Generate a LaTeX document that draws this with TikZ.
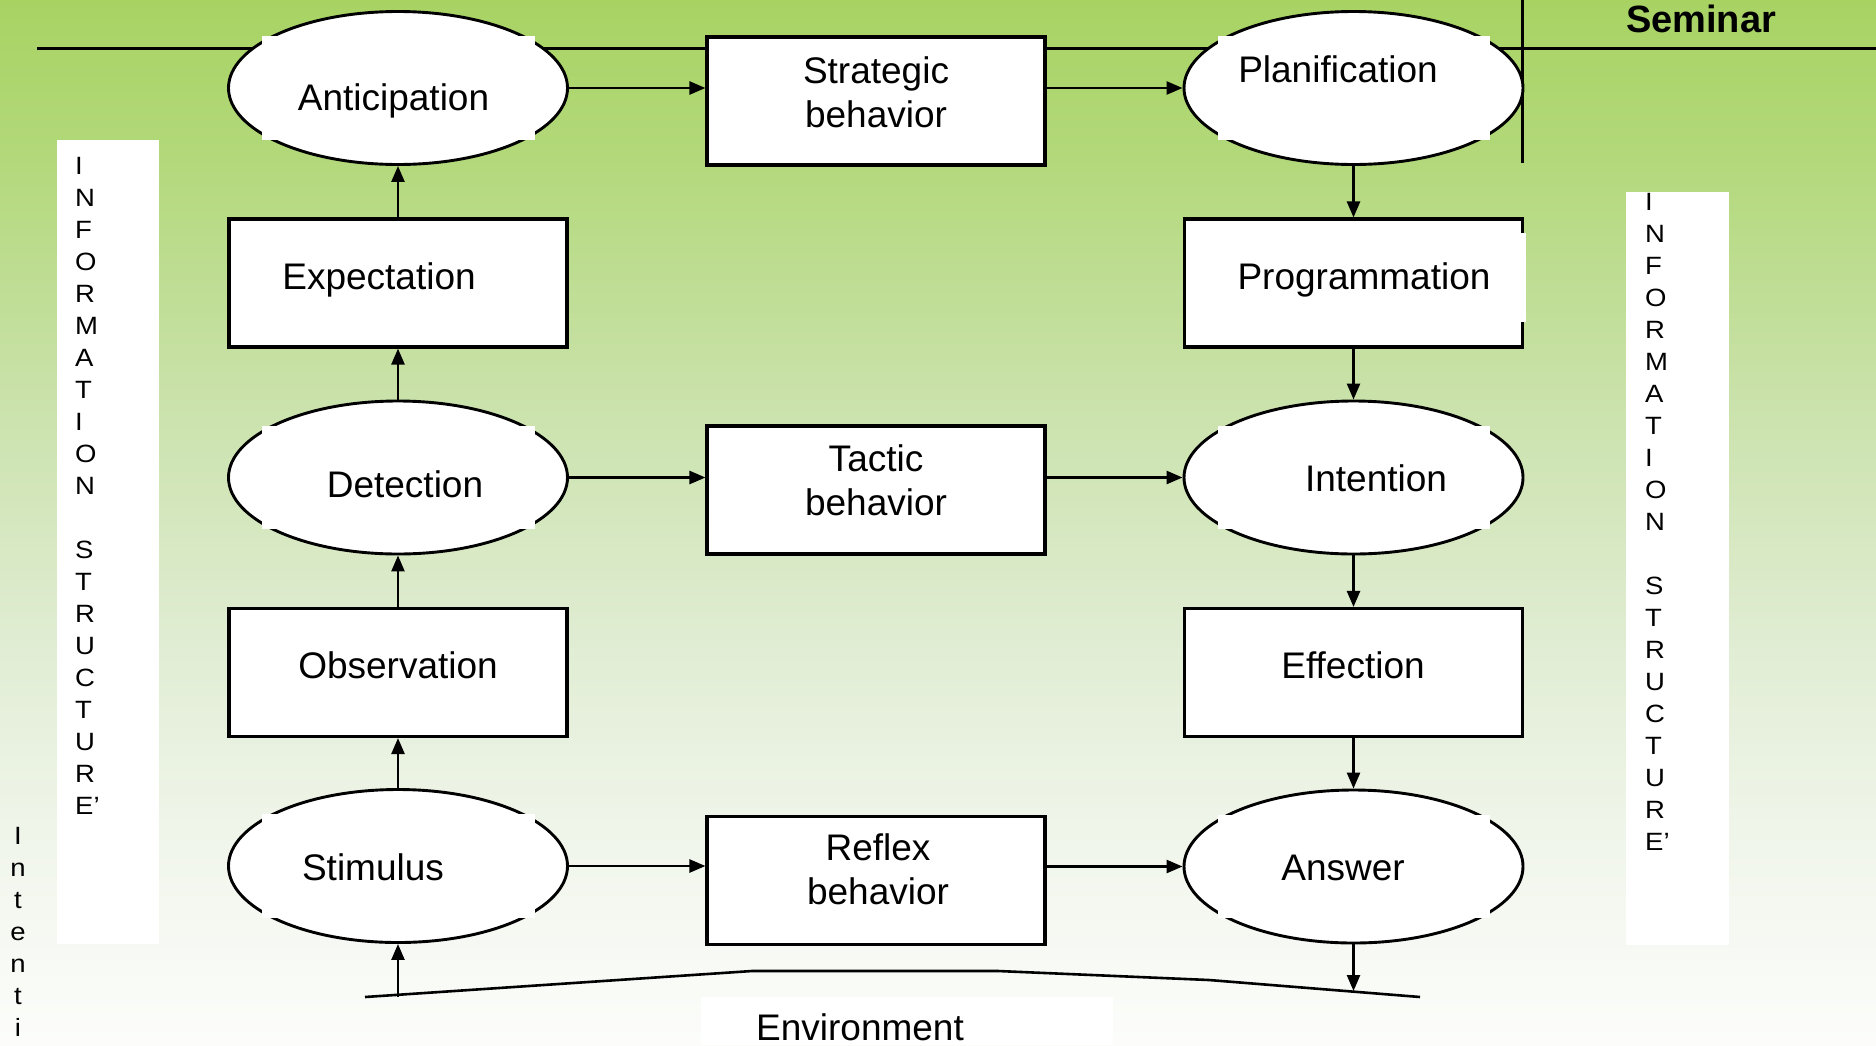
\documentclass[tikz,border=0pt]{standalone}
\usepackage{fontspec}
\setmainfont{Liberation Sans}
\newfontfamily\widesans[FakeStretch=1.1]{Liberation Sans}
\usetikzlibrary{shapes.geometric,arrows.meta,calc}
\definecolor{bgA}{HTML}{A8D363}
\definecolor{bgB}{HTML}{B2D879}
\definecolor{bgC}{HTML}{CAE2AB}
\definecolor{bgD}{HTML}{E1EDD4}
\definecolor{bgE}{HTML}{F1F6EC}
\definecolor{bgF}{HTML}{FCFDFB}
\tikzset{
  ell/.style={ellipse, draw, fill=white, line width=2.9pt, minimum width=339pt, minimum height=153pt, inner sep=0pt},
  boxn/.style={rectangle, draw, fill=white, line width=3.1pt, minimum width=338pt, minimum height=128pt, inner sep=0pt},
  lbl/.style={inner sep=0pt, font=\fontsize{37}{44}\selectfont},
  vlbl/.style={inner sep=0pt, font=\widesans\fontsize{25}{32}\selectfont},
  arr/.style={line width=2.5pt, -{Triangle[length=16pt,width=13pt]}},
  rule/.style={line width=3pt},
}
\begin{document}
\begin{tikzpicture}[x=1pt,y=-1pt]
\useasboundingbox (0,0) rectangle (1876,1045);
% background gradient
\shade[top color=bgA, bottom color=bgB] (0,0) rectangle (1876,151);
\shade[top color=bgB, bottom color=bgC] (0,150) rectangle (1876,401);
\shade[top color=bgC, bottom color=bgD] (0,400) rectangle (1876,651);
\shade[top color=bgD, bottom color=bgE] (0,650) rectangle (1876,851);
\shade[top color=bgE, bottom color=bgF] (0,850) rectangle (1876,1045);
% side panels
\fill[white] (57,140) rectangle (159,944);
\fill[white] (1626,192) rectangle (1729,945);
\fill[white] (701,997) rectangle (1113,1045);
% header rules
\coordinate (tl) at (37,48);
\coordinate (tr) at (1876,48);
\coordinate (vt) at (1522.5,0);
\coordinate (vb) at (1522.5,163);
\draw[rule] (tl) -- (tr);
\draw[line width=2.7pt] (vt) -- (vb);
% environment line
\coordinate (e1) at (365,997);
\coordinate (e2) at (752,971);
\coordinate (e3) at (998,971);
\coordinate (e4) at (1209,980);
\coordinate (e5) at (1420,997);
\draw[line width=2.6pt] (e1) -- (e2) -- (e3) -- (e4) -- (e5);
\coordinate (envS) at (398,997);
\coordinate (envA) at (1353.5,991);
% shapes
\node[ell]  (ant)  at (398,88) {};
\node[boxn] (strat) at (876,101) {};
\node[ell]  (plan) at (1353.5,88) {};
\node[boxn] (expc) at (398,283) {};
\node[boxn] (prog) at (1353.5,283) {};
\node[ell]  (det)  at (398,477.5) {};
\node[boxn] (tact) at (876,490) {};
\node[ell]  (intn) at (1353.5,477.5) {};
\node[boxn] (obs)  at (398,672.5) {};
\node[boxn] (eff)  at (1353.5,672.5) {};
\node[ell]  (stim) at (398,866) {};
\node[boxn] (refl) at (876,880.5) {};
\node[ell]  (ans)  at (1353.5,866.5) {};
\foreach \e in {ant,plan,det,intn,stim,ans}
  \fill[white] ($(\e.center)+(-136,-52)$) rectangle ($(\e.center)+(136.5,51.5)$);
\fill[white] (1520.5,233) rectangle (1525.5,322);
% connectors
\draw[arr] (ant.east) -- (ant.east -| strat.west);
\draw[arr] (strat.east |- plan.west) -- (plan.west);
\draw[arr] (det.east) -- (det.east -| tact.west);
\draw[arr] (tact.east |- intn.west) -- (intn.west);
\draw[arr] (stim.east) -- (stim.east -| refl.west);
\draw[arr] (refl.east |- ans.west) -- (ans.west);
\draw[arr] (expc.north) -- (ant.south);
\draw[arr] (det.north) -- (expc.south);
\draw[arr] (obs.north) -- (det.south);
\draw[arr] (stim.north) -- (obs.south);
\draw[arr] (plan.south) -- (prog.north);
\draw[arr] (prog.south) -- (intn.north);
\draw[arr] (intn.south) -- (eff.north);
\draw[arr] (eff.south) -- (ans.north);
\draw[arr] (envS) -- (stim.south);
\draw[arr] (ans.south) -- (envA);
% texts
\node[lbl, anchor=base] (tAnt) at (393.5,110) {Anticipation};
\node[lbl, anchor=north, align=center] (tStrat) at (876,56) {Strategic\\behavior};
\node[lbl, anchor=base] (tPlan) at (1338,82) {Planification};
\node[lbl, anchor=base] (tExp) at (379,289) {Expectation};
\node[lbl, anchor=base] (tProg) at (1364,289) {Programmation};
\node[lbl, anchor=base] (tDet) at (405,497) {Detection};
\node[lbl, anchor=north, align=center] (tTact) at (876,444) {Tactic\\behavior};
\node[lbl, anchor=base] (tInt) at (1376,491) {Intention};
\node[lbl, anchor=base] (tObs) at (398,678) {Observation};
\node[lbl, anchor=base] (tEff) at (1353,678) {Effection};
\node[lbl, anchor=base] (tStim) at (373,880) {Stimulus};
\node[lbl, anchor=north, align=center] (tRefl) at (878,833) {Reflex\\behavior};
\node[lbl, anchor=base] (tAns) at (1343,880) {Answer};
\node[lbl, anchor=base] (tEnv) at (860,1040) {Environment};
\node[inner sep=0pt, anchor=base, font=\fontsize{38}{44}\selectfont\bfseries] (tSem) at (1701,32) {Seminar};
\node[vlbl, anchor=north west, align=left] (tISL) at (75,157)
  {I\\N\\F\\O\\R\\M\\A\\T\\I\\O\\N\\[32pt]S\\T\\R\\U\\C\\T\\U\\R\\E’};
\node[vlbl, anchor=north west, align=left] (tISR) at (1645,193)
  {I\\N\\F\\O\\R\\M\\A\\T\\I\\O\\N\\[32pt]S\\T\\R\\U\\C\\T\\U\\R\\E’};
\node[vlbl, anchor=north, align=center] (tInt2) at (18,827)
  {I\\n\\t\\e\\n\\t\\i};
\end{tikzpicture}
\end{document}
